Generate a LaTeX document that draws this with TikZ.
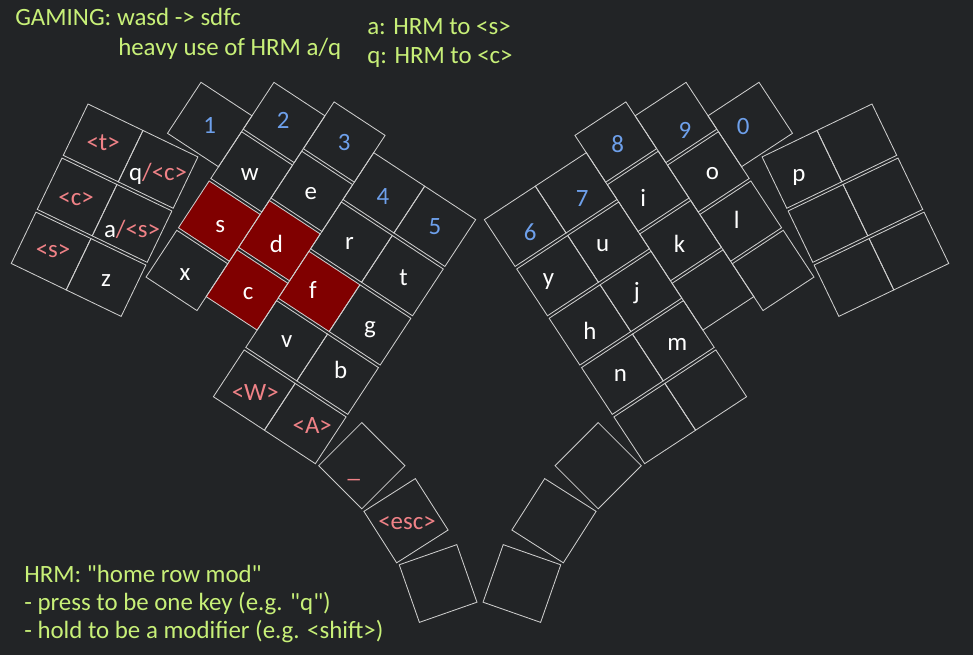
\documentclass[tikz,border=0pt]{standalone}
\usepackage{fontspec}
\setmainfont{Carlito}[Ligatures=TeXOff]
\definecolor{fondo}{RGB}{34,36,38}
\definecolor{borde}{RGB}{205,205,205}
\definecolor{verde}{RGB}{200,240,120}
\definecolor{rosa}{RGB}{240,130,135}
\definecolor{azul}{RGB}{110,160,235}
\definecolor{granate}{RGB}{128,0,0}

\begin{document}
\begin{tikzpicture}[x=0.025cm, y=-0.025cm,
		tecla/.style={draw=borde, line width=0.6pt},
		texto/.style={font=\fontsize{17.7}{20}\selectfont, inner sep=0pt},
		letra/.style={texto, text=white},
		num/.style={texto, text=azul},
		modif/.style={texto, text=rosa},
		nota/.style={texto, text=verde, anchor=base west}]
		
		% Fondo
		\fill[fondo] (0,0) rectangle (973,655);
		\useasboundingbox (0,0) rectangle (973,655);
		
		% Teclas marcadas (s d f c)
		\begin{scope}[shift={(201,82.3)}, rotate=-33.3]
			\foreach \c/\s/\r in {1/-40/3, 2/-56.7/3, 2/-56.7/4, 3/-36/3}
				\fill[granate] (\c*61, \s+\r*59-59) rectangle ++(61,56);
		\end{scope}
		
		% Las dos mitades (la derecha es el espejo de la izquierda)
		\foreach \lado/\sx/\dx in {L/1/0, R/-1/960}{
			\begin{scope}[shift={(\dx,0)}, xscale=\sx]
				% columnas principales
				\begin{scope}[shift={(201,82.3)}, rotate=-33.3]
					\foreach \c/\s/\n/\h in {0/0/1/61, 1/-40/4/56, 2/-56.7/4/56, 3/-36/5/56, 4/-36/5/56}
						\foreach \r in {1,...,\n}{
							\draw[tecla] (\c*61, \s+\r*59-59) rectangle ++(61,\h);
							\coordinate (\lado-\c-\r) at (\c*61+30.5, \s+\r*59-59+\h/2);
						}
				\end{scope}
				% bloque exterior 2x3
				\begin{scope}[shift={(88,104)}, rotate=-25.7]
					\foreach \c in {0,1}
						\foreach \r in {1,2,3}{
							\draw[tecla] (\c*61, \r*60-60) rectangle ++(61,57);
							\coordinate (\lado-o\c-\r) at (\c*61+30.5, \r*60-31.5);
						}
				\end{scope}
				% pulgar
				\foreach \i/\x/\y/\a in {1/361.8/465.7/45, 2/406/520.7/32.5, 3/438.1/583.5/19.3}{
					\draw[tecla, shift={(\x,\y)}, rotate=\a] (-30.5,-30.5) rectangle (30.5,30.5);
					\coordinate (\lado-t\i) at (\x,\y);
				}
			\end{scope}
		}
		
		% Numeros (con pequeños ajustes a mano)
		\foreach \p/\t/\ox/\oy in {L-0-1/1/0/1, L-1-1/2/-1/-2, L-2-1/3/0/0, L-3-1/4/-1/4, L-4-1/5/0/0,
			R-4-1/6/5/6, R-3-1/7/6/6, R-2-1/8/2/2, R-1-1/9/9/8, R-0-1/0/-7/2}
			\node[num] (k-\p) at ([shift={(\ox,\oy)}]\p) {\t};
		
		% Letras
		\foreach \p/\t/\ox/\oy in {L-1-2/w/-2/3, L-2-2/e/-1/2, L-3-2/r/-2/1, L-4-2/t/1/2,
			L-1-3/s/1/5, L-2-3/d/-3/3, L-3-3/f/-6/-1, L-4-3/g/0/5,
			L-1-4/x/-2/4, L-2-4/c/1/4, L-3-4/v/0/1, L-4-4/b/3/-4, L-o1-3/z/0/3,
			R-4-2/y/-9/6, R-3-2/u/-6/4, R-2-2/i/-5/7, R-1-2/o/4/2,
			R-4-3/h/0/6, R-3-3/j/-4/2, R-2-3/k/-1/3, R-1-3/l/-4/-1,
			R-4-4/n/-2/1, R-3-4/m/4/4, R-o1-1/p/-3/8}
			\node[letra] (k-\p) at ([shift={(\ox,\oy)}]\p) {\t};
		\node[letra] (k-q) at ([shift={(0,5)}]L-o1-1) {q\textcolor{rosa}{/<c>}};
		\node[letra] (k-a) at ([shift={(0,6)}]L-o1-2) {a\textcolor{rosa}{/<s>}};
		
		% Modificadores
		\foreach \p/\t/\ox/\oy in {L-o0-1/<t>/0/0, L-o0-2/<c>/-1/2, L-o0-3/<s>/2/0,
			L-3-5/<W>/1/2, L-4-5/<A>/7/2, L-t2/<esc>/1/2}
			\node[modif] (k-\p) at ([shift={(\ox,\oy)}]\p) {\t};
		\node[modif, anchor=base] (k-guion) at ([shift={(-8,12)}]L-t1) {\_};
		
		% Notas
		\node[nota] (gaming) at (15,25.5) {GAMING: wasd -> sdfc};
		\node[nota] (heavy) at (118,55.5) {heavy use of HRM a/q};
		\node[nota] (hrmA) at (367,35) {a: HRM to <s>};
		\node[nota] (hrmQ) at (367,63.5) {q: HRM to <c>};
		\node[nota] (def1) at (24,582) {HRM: "home row mod"};
		\node[nota] (def2) at (24,610) {- press to be one key (e.g. "q")};
		\node[nota] (def3) at (24,638) {- hold to be a modifier (e.g. <shift>)};
		
	\end{tikzpicture}
\end{document}
